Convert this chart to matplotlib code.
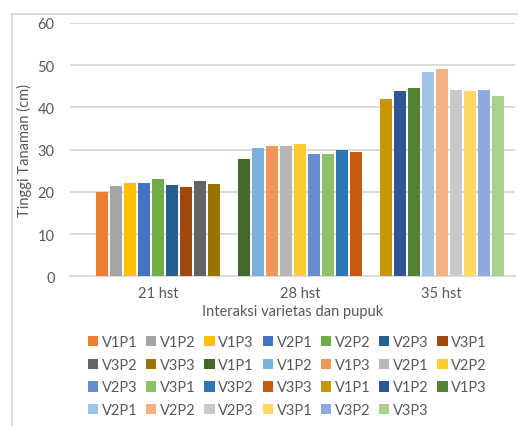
import numpy as np
import matplotlib.pyplot as plt
from matplotlib.lines import Line2D

plt.rcParams['font.family'] = ['Lato', 'DejaVu Sans']

# data
kategori = ['21 hst', '28 hst', '35 hst']
perlakuan = ['V1P1', 'V1P2', 'V1P3', 'V2P1', 'V2P2', 'V2P3', 'V3P1', 'V3P2', 'V3P3']
tinggi_21 = [20.0, 21.4, 22.1, 22.1, 23.0, 21.6, 21.2, 22.6, 21.9]
tinggi_28 = [27.8, 30.4, 30.9, 30.9, 31.4, 29.0, 29.0, 29.9, 29.5]
tinggi_35 = [42.0, 43.9, 44.6, 48.4, 49.1, 44.1, 43.9, 44.1, 42.7]

warna_21 = ['#ED7D31', '#A5A5A5', '#FFC000', '#4472C4', '#70AD47',
            '#255E91', '#9E480E', '#636363', '#997300']
warna_28 = ['#43682B', '#7CAFDD', '#F1975A', '#B7B7B7', '#FFCD33',
            '#698ED0', '#8CC168', '#2E75B6', '#C55A11']
warna_35 = ['#C99700', '#2F5597', '#548235', '#9DC3E6', '#F4B183',
            '#C9C9C9', '#FFD966', '#8FAADC', '#A9D18E']

teks = '#595959'
garis = '#D9D9D9'

fig = plt.figure(figsize=(5.18, 4.27), dpi=100)
ax = fig.add_axes([70/518, 1-277.3/427, 445/518, (277.3-24)/427])

langkah = 14/141.5
lebar = 12/141.5
offset = (np.arange(9) - 4) * langkah

handles = []
labels = []
for i, (nilai, warna) in enumerate(zip([tinggi_21, tinggi_28, tinggi_35],
                                        [warna_21, warna_28, warna_35])):
    for j in range(9):
        b = ax.bar(i + offset[j], nilai[j], width=lebar, color=warna[j], zorder=3)
        handles.append(b)
        labels.append(perlakuan[j])

ax.set_ylim(0, 60)
ax.set_xlim(-0.625, 2.519)
ax.set_yticks(np.arange(0, 61, 10))
ax.set_xticks(range(3))
ax.set_xticklabels(kategori)
ax.grid(axis='y', color=garis, linewidth=1.3, zorder=0)
for s in ['top', 'right', 'left']:
    ax.spines[s].set_visible(False)
ax.spines['bottom'].set_color(garis)
ax.spines['bottom'].set_linewidth(1.3)
ax.tick_params(axis='both', length=0, colors=teks, labelsize=10.5)
ax.tick_params(axis='y', pad=11)
ax.tick_params(axis='x', pad=7)
ax.set_ylabel('Tinggi Tanaman (cm)', color=teks, fontsize=10.5, labelpad=4)
ax.set_xlabel('Interaksi varietas dan pupuk', color=teks, fontsize=10.5, labelpad=3)

# urutan legenda baris demi baris seperti Excel
urut = [r * 7 + c for c in range(7) for r in range(4) if r * 7 + c < 27]
fig.legend([handles[k] for k in urut], [labels[k] for k in urut],
           ncol=7, loc='upper left', bbox_to_anchor=(88/518, 1-336/427),
           frameon=False, fontsize=10.5, labelcolor=teks,
           handlelength=0.7, handleheight=0.7, handletextpad=0.25,
           columnspacing=0.6, labelspacing=0.6, borderpad=0, borderaxespad=0)

# bingkai area grafik
fig.add_artist(Line2D([12/518, 12/518], [0, 1-15/427], color=garis, lw=1.3))
fig.add_artist(Line2D([12/518, 1], [1-15/427, 1-15/427], color=garis, lw=1.3))

fig.savefig('out.png', dpi=100)
